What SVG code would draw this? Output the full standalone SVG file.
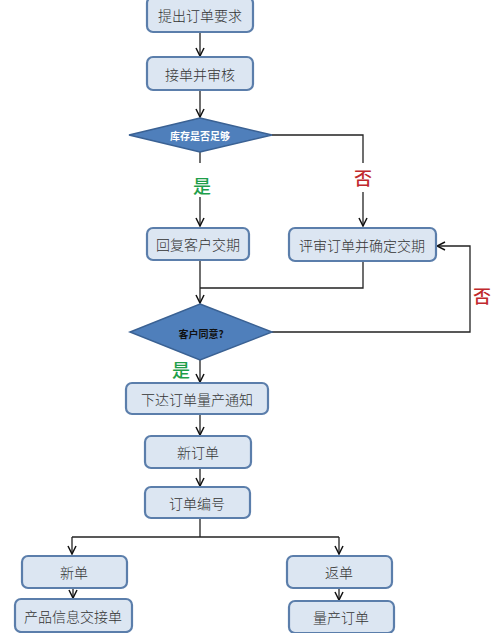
<svg xmlns="http://www.w3.org/2000/svg" width="500" height="633" viewBox="0 0 500 633">
<defs>
<marker id="arr" viewBox="0 0 10 10" refX="9" refY="5" markerWidth="10" markerHeight="10" markerUnits="userSpaceOnUse" orient="auto">
<path d="M1,1 L9,5 L1,9" fill="none" stroke="#111" stroke-width="1.5"/>
</marker>
<style>
.box{fill:#dce6f2;stroke:#5b7eab;stroke-width:2.2}
.dia{fill:#4f7fbb;stroke:#3a6193;stroke-width:1.5}
.t{font-family:"Noto Sans CJK SC",sans-serif;font-size:14px;fill:#333;text-anchor:middle;dominant-baseline:central;font-weight:300}
.dt{font-family:"Noto Sans CJK SC",sans-serif;font-size:10px;font-weight:bold;text-anchor:middle;dominant-baseline:central}
.c{fill:none;stroke:#222;stroke-width:1.3}
.ca{fill:none;stroke:#222;stroke-width:1.3;marker-end:url(#arr)}
.yes{font-family:"Noto Sans CJK SC",sans-serif;font-size:18px;font-weight:500;fill:#1e9e4a;text-anchor:middle;dominant-baseline:central}
.no{font-family:"Noto Sans CJK SC",sans-serif;font-size:18px;font-weight:500;fill:#c0282c;text-anchor:middle;dominant-baseline:central}
</style>
</defs>
<rect width="500" height="633" fill="#fff"/>
<g id="connectors">
<line class="ca" x1="200" y1="32" x2="200" y2="56"/>
<line class="ca" x1="200" y1="90" x2="200" y2="117"/>
<polyline class="c" points="272,135 363,135 363,163"/>
<line class="ca" x1="363" y1="192" x2="363" y2="226"/>
<line class="c" x1="200" y1="152" x2="200" y2="163"/>
<line class="ca" x1="200" y1="197" x2="200" y2="226"/>
<line class="ca" x1="200" y1="261" x2="200" y2="303"/>
<polyline class="c" points="200,288 363,288 363,262"/>
<polyline class="ca" points="272,332 470,332 470,246 437,246"/>
<line class="ca" x1="200" y1="360" x2="200" y2="382"/>
<line class="ca" x1="200" y1="415" x2="200" y2="435"/>
<line class="ca" x1="200" y1="468" x2="200" y2="486"/>
<polyline class="c" points="200,518 200,537"/>
<polyline class="c" points="72,537 339,537"/>
<line class="ca" x1="72" y1="537" x2="72" y2="554"/>
<line class="ca" x1="339" y1="537" x2="339" y2="554"/>
<line class="ca" x1="73" y1="589" x2="73" y2="598"/>
<line class="ca" x1="339" y1="589" x2="339" y2="600"/>
<line class="c" x1="72" y1="632" x2="72" y2="633"/>
<line class="c" x1="342" y1="632" x2="342" y2="633"/>
</g>
<g id="n1"><rect class="box" x="147" y="-3" width="106" height="35" rx="6"/><text class="t" x="200" y="15">提出订单要求</text></g>
<g id="n2"><rect class="box" x="147" y="57" width="106" height="33" rx="6"/><text class="t" x="200" y="74">接单并审核</text></g>
<g id="d1"><polygon class="dia" points="200,118 272,135 200,152 129,135"/><text class="dt" x="200" y="135" fill="#fff">库存是否足够</text></g>
<g id="l1"><text class="yes" x="202" y="185">是</text><text class="no" x="363" y="177">否</text></g>
<g id="n3"><rect class="box" x="147" y="228" width="102" height="32" rx="6"/><text class="t" x="198" y="244">回复客户交期</text></g>
<g id="n4"><rect class="box" x="289" y="228" width="147" height="33" rx="6"/><text class="t" x="362" y="245">评审订单并确定交期</text></g>
<g id="d2"><polygon class="dia" points="200,304 272,332 200,360 130,332"/><text class="dt" x="201" y="333" fill="#111">客户同意?</text></g>
<g id="l2"><text class="no" x="482" y="295">否</text><text class="yes" x="181" y="369">是</text></g>
<g id="n5"><rect class="box" x="126" y="383" width="142" height="31" rx="6"/><text class="t" x="197" y="399">下达订单量产通知</text></g>
<g id="n6"><rect class="box" x="145" y="436" width="106" height="32" rx="6"/><text class="t" x="198" y="452">新订单</text></g>
<g id="n7"><rect class="box" x="145" y="487" width="105" height="31" rx="6"/><text class="t" x="197" y="503">订单编号</text></g>
<g id="n8"><rect class="box" x="22" y="556" width="105" height="32" rx="6"/><text class="t" x="74" y="572">新单</text></g>
<g id="n9"><rect class="box" x="287" y="556" width="105" height="32" rx="6"/><text class="t" x="339" y="572">返单</text></g>
<g id="n10"><rect class="box" x="15" y="599" width="117" height="33" rx="6"/><text class="t" x="73" y="616">产品信息交接单</text></g>
<g id="n11"><rect class="box" x="289" y="601" width="105" height="32" rx="6"/><text class="t" x="341" y="617">量产订单</text></g>
</svg>
